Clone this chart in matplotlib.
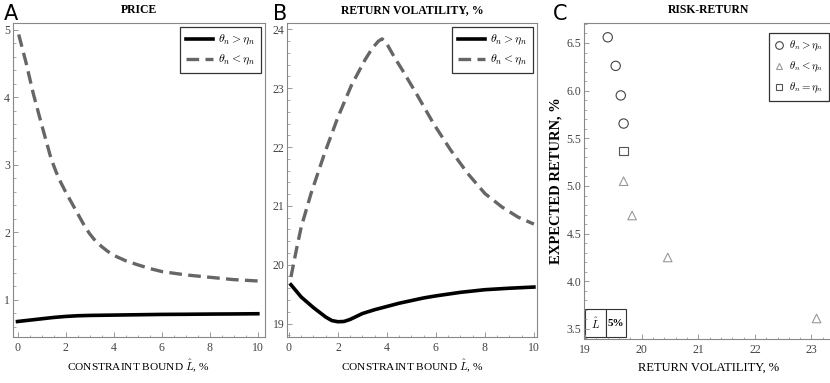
import matplotlib.pyplot as plt
from matplotlib.ticker import MultipleLocator
from matplotlib.lines import Line2D

plt.rcParams['font.family'] = 'Liberation Serif'
plt.rcParams['mathtext.fontset'] = 'cm'

# panel A: price vs constraint bound
bound_a_hi = [0, 0.5, 1, 1.5, 2, 2.5, 3, 4, 5, 6, 7, 8, 9, 10]
price_hi = [0.68, 0.70, 0.72, 0.74, 0.755, 0.765, 0.77, 0.775, 0.78, 0.785, 0.787, 0.79,
            0.792, 0.795]
bound_a_lo = [0.05, 0.35, 0.66, 1.0, 1.39, 1.6, 1.8, 2.0, 2.25, 2.5, 2.75, 3.0, 3.25, 3.5,
              3.75, 4.0, 4.5, 5.0, 5.5, 6.0, 7.0, 8.0, 9.0, 10.0]
price_lo = [4.93, 4.52, 4.05, 3.6, 3.1, 2.9, 2.74, 2.6, 2.44, 2.28, 2.12, 1.98, 1.87, 1.79,
            1.72, 1.66, 1.58, 1.52, 1.465, 1.42, 1.37, 1.335, 1.30, 1.28]

# panel B: return volatility vs constraint bound
bound_b_hi = [0.08, 0.5, 1.0, 1.5, 1.75, 2.0, 2.25, 2.5, 3.0, 3.5, 4.0, 4.5, 5.0, 5.5, 6.0,
              7.0, 8.0, 9.0, 10.0]
vol_hi = [19.66, 19.45, 19.27, 19.11, 19.05, 19.03, 19.035, 19.07, 19.17, 19.235, 19.29,
          19.345, 19.39, 19.435, 19.47, 19.53, 19.575, 19.60, 19.62]
bound_b_lo = [0.08, 0.3, 0.5, 0.9, 1.45, 2.0, 2.55, 3.1, 3.4, 3.65, 3.8, 3.95, 4.3, 4.6,
              5.2, 5.9, 6.6, 7.3, 8.0, 8.7, 9.35, 10.0]
vol_lo = [19.79, 20.25, 20.64, 21.21, 21.89, 22.51, 23.05, 23.48, 23.68, 23.8, 23.84, 23.79,
          23.53, 23.33, 22.91, 22.40, 21.95, 21.55, 21.21, 20.98, 20.81, 20.69]

# panel C: risk-return
circ_vol = [19.40, 19.54, 19.63, 19.68]
circ_ret = [6.56, 6.26, 5.95, 5.655]
tri_vol = [19.68, 19.83, 20.46, 23.09]
tri_ret = [5.05, 4.69, 4.25, 3.61]
sq_vol = [19.68]
sq_ret = [5.365]

lab_hi = r'$\boldsymbol{\theta_n > \eta_n}$'
lab_lo = r'$\boldsymbol{\theta_n < \eta_n}$'
lab_eq = r'$\boldsymbol{\theta_n = \eta_n}$'
xlab = 'CONSTRAINT BOUND ' + r'$\hat{L}$' + ', %'

frame_col = '#888888'
tick_col = '#444444'
dash_col = '#666666'


def style(ax):
    for s in ax.spines.values():
        s.set_color(frame_col)
        s.set_linewidth(0.8)
    ax.tick_params(which='both', direction='in', colors=frame_col, labelcolor=tick_col,
                   labelsize=8.5, top=False, right=False)
    ax.tick_params(which='major', length=3.5, width=0.6)
    ax.tick_params(which='minor', length=1.8, width=0.5)
    ax.tick_params(axis='y', pad=2)


fig = plt.figure(figsize=(8.3, 3.83), dpi=100)
ax_a = fig.add_axes([0.0153, 0.120, 0.304, 0.820])
ax_b = fig.add_axes([0.3458, 0.120, 0.301, 0.820])
ax_c = fig.add_axes([0.7036, 0.115, 0.300, 0.825])

# A
ax_a.plot(bound_a_hi, price_hi, color='black', lw=2.6, label=lab_hi)
ax_a.plot(bound_a_lo, price_lo, color=dash_col, lw=2.4, ls=(0, (3.8, 1.9)), label=lab_lo)
ax_a.set_xlim(-0.2, 10.3)
ax_a.set_ylim(0.45, 5.1)
ax_a.xaxis.set_major_locator(MultipleLocator(2))
ax_a.xaxis.set_minor_locator(MultipleLocator(0.5))
ax_a.yaxis.set_major_locator(MultipleLocator(1))
ax_a.yaxis.set_minor_locator(MultipleLocator(0.2))
style(ax_a)
ax_a.set_xlabel(xlab, fontsize=8.2, labelpad=2.5)
ax_a.set_title('PRICE', fontsize=8.5, fontweight='bold', pad=7)

# B
ax_b.plot(bound_b_hi, vol_hi, color='black', lw=2.6, label=lab_hi)
ax_b.plot(bound_b_lo, vol_lo, color=dash_col, lw=2.4, ls=(0, (3.8, 1.9)), label=lab_lo)
ax_b.set_xlim(-0.08, 10.12)
ax_b.set_ylim(18.77, 24.11)
ax_b.xaxis.set_major_locator(MultipleLocator(2))
ax_b.xaxis.set_minor_locator(MultipleLocator(0.5))
ax_b.yaxis.set_major_locator(MultipleLocator(1))
ax_b.yaxis.set_minor_locator(MultipleLocator(0.2))
style(ax_b)
ax_b.set_xlabel(xlab, fontsize=8.2, labelpad=2.5)
ax_b.set_title('RETURN VOLATILITY, %', fontsize=8.5, fontweight='bold', pad=7)

for ax in (ax_a, ax_b):
    leg = ax.legend(loc='upper right', fontsize=8.5, frameon=True, fancybox=False,
                    borderaxespad=0.35, handlelength=2.3, handletextpad=0.4,
                    borderpad=0.5, labelspacing=0.5)
    leg.get_frame().set_edgecolor('black')
    leg.get_frame().set_linewidth(0.9)

# C
ax_c.scatter(circ_vol, circ_ret, s=45, marker='o', facecolors='none', edgecolors='#444444',
             linewidths=0.8)
ax_c.scatter(tri_vol, tri_ret, s=38, marker='^', facecolors='none', edgecolors='#999999',
             linewidths=0.8)
ax_c.scatter(sq_vol, sq_ret, s=38, marker='s', facecolors='none', edgecolors='#555555',
             linewidths=0.8)
ax_c.set_xlim(18.98, 23.38)
ax_c.set_ylim(3.395, 6.71)
ax_c.xaxis.set_major_locator(MultipleLocator(1))
ax_c.xaxis.set_minor_locator(MultipleLocator(0.2))
ax_c.yaxis.set_major_locator(MultipleLocator(0.5))
ax_c.yaxis.set_minor_locator(MultipleLocator(0.1))
style(ax_c)
ax_c.yaxis.set_major_formatter(plt.FormatStrFormatter('%.1f'))
ax_c.set_xlabel('RETURN VOLATILITY, %', fontsize=9, labelpad=4)
ax_c.set_ylabel('EXPECTED RETURN, %', fontsize=10.5, fontweight='bold', labelpad=3)
ax_c.set_title('RISK-RETURN', fontsize=8.5, fontweight='bold', pad=7)

handles = [
    Line2D([], [], marker='o', ls='none', mfc='none', mec='#444444', ms=5.5, mew=0.8),
    Line2D([], [], marker='^', ls='none', mfc='none', mec='#999999', ms=4.5, mew=0.8),
    Line2D([], [], marker='s', ls='none', mfc='none', mec='#555555', ms=4.5, mew=0.8),
]
leg_c = ax_c.legend(handles, [lab_hi, lab_lo, lab_eq], loc='upper left',
                    bbox_to_anchor=(0.722, 0.985), fontsize=7.8, frameon=True, fancybox=False,
                    handlelength=0.8, handletextpad=0.5, borderpad=0.55, labelspacing=0.6)
leg_c.get_frame().set_edgecolor('black')
leg_c.get_frame().set_linewidth(0.9)

# bound box in panel C
tbl = ax_c.table(cellText=[[r'$\hat{L}$', '5%']], cellLoc='center',
                 bbox=[0.005, 0.005, 0.165, 0.09])
tbl.auto_set_font_size(False)
for (r, c), cell in tbl.get_celld().items():
    cell.set_edgecolor('#333333')
    cell.set_linewidth(0.8)
    cell.get_text().set_fontsize(8)
    cell.get_text().set_fontweight('bold')

# panel letters
fig.text(0.005, 0.947, 'A', fontsize=15, family='DejaVu Sans')
fig.text(0.329, 0.947, 'B', fontsize=15, family='DejaVu Sans')
fig.text(0.666, 0.947, 'C', fontsize=15, family='DejaVu Sans')

fig.savefig('out.png', dpi=100)
